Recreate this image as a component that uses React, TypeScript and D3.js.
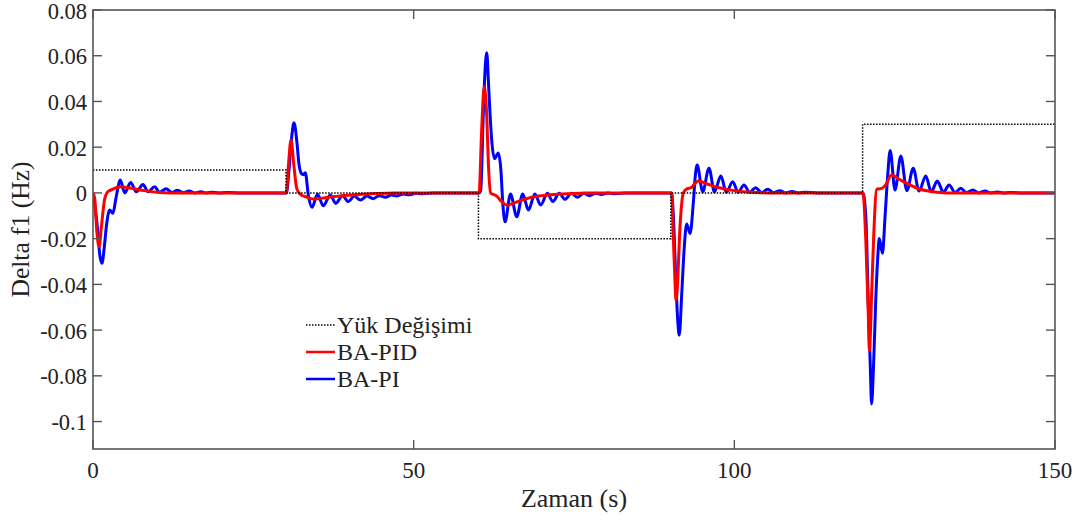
import React from 'react';
import * as d3 from 'd3';

type P = [number, number];

const xTicks = [0, 50, 100, 150];
const xTickLabels = ['0', '50', '100', '150'];
const yTicks = [-0.1, -0.08, -0.06, -0.04, -0.02, 0, 0.02, 0.04, 0.06, 0.08];
const yTickLabels = ['-0.1', '-0.08', '-0.06', '-0.04', '-0.02', '0', '0.02', '0.04', '0.06', '0.08'];

const seriesNames = ['Yük Değişimi', 'BA-PID', 'BA-PI'];

// Load change (step)
const loadSeries: P[] = [
  [0, 0.01], [30.1, 0.01], [30.1, 0], [60.1, 0], [60.1, -0.02], [90.1, -0.02],
  [90.1, 0], [120.0, 0], [120.0, 0.03], [150, 0.03],
];

// BA-PID (red)
const pidSeries: P[] = [
  [0, 0], [0.25, -0.002], [0.6, -0.017], [0.95, -0.0235], [1.3, -0.015], [1.8, -0.003],
  [2.3, 0.0005], [3.0, 0.0015], [4.2, 0.0027], [6, 0.002], [8, 0.001], [10, 0.0003], [12, 0],
  [30.15, 0], [30.46, 0.0115], [30.87, 0.0231], [31.34, 0.0115], [31.76, 0.002], [32.3, -0.0005],
  [33.3, -0.0018], [34.35, -0.0027], [36.5, -0.002], [38.5, -0.0013], [41, -0.0008], [44, -0.0003], [47, 0],
  [60.2, 0], [60.6, 0.0275], [61.0, 0.0465], [61.4, 0.0333], [61.65, 0.013], [62.0, 0],
  [62.95, -0.0014], [63.6, -0.0035], [64.5, -0.0053], [66.5, -0.0035], [68.7, -0.0017],
  [71, -0.0009], [73.9, -0.0004], [77, 0],
  [90.25, 0], [90.5, -0.0206], [90.76, -0.0396], [90.9, -0.0469], [91.2, -0.0367], [91.45, -0.0192],
  [91.8, -0.0045], [92.05, 0], [92.6, 0.0018], [93.2, 0.0022], [94.4, 0.0052], [96, 0.0037],
  [97.5, 0.0024], [100, 0.001], [103.5, 0.0002], [106, 0],
  [120.05, 0], [120.5, -0.0206], [120.9, -0.054], [121.05, -0.069], [121.45, -0.041],
  [121.75, -0.0177], [122.2, 0.0016], [123.0, 0.002], [123.6, 0.0035], [124.5, 0.0078],
  [125.7, 0.006], [126.9, 0.0042], [129, 0.0016], [131, 0.0005], [133, 0], [150, 0],
];

// BA-PI (blue)
const piSeries: P[] = [
  [0, 0], [0.4, -0.008], [0.78, -0.0177], [1.05, -0.027], [1.4, -0.0308], [1.75, -0.024],
  [2.08, -0.0148], [2.6, -0.0075], [3.1, -0.0089], [3.6, -0.002], [4.26, 0.0056], [4.94, 0.0],
  [5.87, 0.0046], [6.76, 0.0005], [7.8, 0.0037], [8.6, 0.0005], [9.6, 0.0027], [10.4, 0.0003],
  [11.4, 0.0018], [12.3, 0.0002], [13.2, 0.0012], [14.1, 0.0001], [15.0, 0.0008], [15.9, 0],
  [16.8, 0.0005], [17.7, 0], [18.6, 0.0003], [19.5, 0], [21, 0.0002], [23, 0],
  [30.15, 0], [30.5, 0.008], [31.0, 0.025], [31.34, 0.0307], [31.8, 0.022], [32.1, 0.013],
  [32.5, 0.0085], [32.8, 0.008], [33.1, 0.0088], [33.6, -0.0015], [34.15, -0.0063],
  [35.0, -0.0006], [35.9, -0.0056], [37.0, -0.0009], [37.85, -0.0046], [38.9, -0.0012],
  [39.8, -0.0038], [40.75, -0.0014], [41.7, -0.0031], [42.7, -0.0014], [43.7, -0.0025],
  [44.6, -0.0012], [45.6, -0.0019], [46.5, -0.0009], [47.4, -0.0013], [48.4, -0.0005],
  [49.4, -0.0008], [50.3, -0.0002], [51.3, -0.0004], [53, 0],
  [60.2, 0], [60.45, 0.001], [60.86, 0.035], [61.1, 0.052], [61.4, 0.0613], [61.65, 0.049],
  [61.9, 0.035], [62.17, 0.023], [62.6, 0.015], [63.2, 0.0175], [63.6, 0.01], [63.9, -0.0046],
  [64.25, -0.0126], [65.1, -0.0005], [66.07, -0.0104], [67.0, -0.0005], [67.9, -0.0075],
  [68.9, -0.0005], [69.8, -0.0053], [70.85, -0.0002], [71.7, -0.0038], [72.7, -0.0002],
  [73.6, -0.0028], [74.6, -0.0002], [75.5, -0.0019], [76.5, -0.0002], [77.4, -0.0012],
  [78.4, -0.0001], [79.3, -0.0007], [80.3, 0], [81.2, -0.0004], [83, 0],
  [90.2, 0], [90.5, -0.0104], [90.9, -0.0396], [91.2, -0.057], [91.42, -0.0622], [91.8, -0.044],
  [92.2, -0.0235], [92.57, -0.0136], [93.1, -0.0177], [93.6, -0.0045], [93.9, 0.007],
  [94.2, 0.0122], [95.07, 0.0005], [96.05, 0.0108], [96.9, 0.0005], [97.9, 0.0074],
  [98.75, 0.0003], [99.75, 0.0049], [100.6, 0.0002], [101.5, 0.0035], [102.4, 0.0002],
  [103.3, 0.0023], [104.3, 0.0001], [105.2, 0.0016], [106.1, 0.0001], [107.1, 0.001],
  [108, 0], [109, 0.0006], [110, 0], [111, 0.0003], [113, 0],
  [120.05, 0], [120.5, -0.0104], [120.9, -0.0498], [121.2, -0.076], [121.4, -0.0923],
  [121.7, -0.076], [122.05, -0.0469], [122.4, -0.0264], [122.6, -0.0199], [123.1, -0.0264],
  [123.5, -0.0104], [123.9, 0.0071], [124.3, 0.0185], [125.05, 0.0013], [125.96, 0.0161],
  [126.9, 0.001], [127.9, 0.0108], [128.8, 0.0008], [129.85, 0.0074], [130.7, 0.0005],
  [131.65, 0.0052], [132.6, 0.0003], [133.5, 0.0035], [134.4, 0.0002], [135.3, 0.002],
  [136.2, 0.0001], [137.2, 0.0013], [138.1, 0], [139.1, 0.0008], [140, 0], [141, 0.0004],
  [142, 0], [143, 0.0002], [145, 0], [150, 0],
];

const W = 1081;
const H = 520;
const L = 93, R = 1055, T = 10, B = 449;
const FONT = '"Liberation Serif", "Times New Roman", serif';
const AX = '#555555';

export default function App() {
  const x = d3.scaleLinear().domain([0, 150]).range([L, R]);
  const y = d3.scaleLinear().domain([-0.112, 0.08]).range([B, T]);
  const smooth = d3.line<P>().x(d => x(d[0])).y(d => y(d[1])).curve(d3.curveMonotoneX);
  const linear = d3.line<P>().x(d => x(d[0])).y(d => y(d[1]));
  const tl = 9;

  return (
    <svg width={W} height={H} style={{ position: 'absolute', left: 0, top: 0, background: '#fff' }}>
      <defs>
        <clipPath id="plot">
          <rect x={L} y={T} width={R - L} height={B - T} />
        </clipPath>
      </defs>
      <rect x={0} y={0} width={W} height={H} fill="#fff" />
      <g clipPath="url(#plot)">
        <path d={smooth(piSeries) || ''} fill="none" stroke="#0000ff" strokeWidth={3} strokeLinejoin="round" />
        <path d={smooth(pidSeries) || ''} fill="none" stroke="#ff0000" strokeWidth={3} strokeLinejoin="round" />
        <path d={linear(loadSeries) || ''} fill="none" stroke="#000" strokeWidth={1.5} strokeDasharray="1.5 1.5" />
      </g>
      <rect x={L} y={T} width={R - L} height={B - T} fill="none" stroke={AX} strokeWidth={1.6} />
      {xTicks.map((t, i) => (
        <g key={'xt' + i}>
          <line x1={x(t)} x2={x(t)} y1={B} y2={B - tl} stroke={AX} strokeWidth={1.4} />
          <line x1={x(t)} x2={x(t)} y1={T} y2={T + tl} stroke={AX} strokeWidth={1.4} />
          <text x={x(t)} y={478} textAnchor="middle" fontFamily={FONT} fontSize={23} fill="#222">{xTickLabels[i]}</text>
        </g>
      ))}
      {yTicks.map((t, i) => (
        <g key={'yt' + i}>
          <line x1={L} x2={L + tl} y1={y(t)} y2={y(t)} stroke={AX} strokeWidth={1.4} />
          <line x1={R} x2={R - tl} y1={y(t)} y2={y(t)} stroke={AX} strokeWidth={1.4} />
          <text x={87} y={y(t) + 8.5} textAnchor="end" fontFamily={FONT} fontSize={22.5} fill="#222">{yTickLabels[i]}</text>
        </g>
      ))}
      <text x={(L + R) / 2} y={507} textAnchor="middle" fontFamily={FONT} fontSize={26} fill="#222">Zaman (s)</text>
      <text transform={`translate(29, ${(T + B) / 2}) rotate(-90)`} textAnchor="middle" fontFamily={FONT} fontSize={25.5} fill="#222">Delta f1 (Hz)</text>
      <g fontFamily={FONT} fontSize={24} fill="#222">
        <line x1={306} x2={335} y1={325} y2={325} stroke="#000" strokeWidth={1.5} strokeDasharray="1.5 1.5" />
        <text x={337} y={333}>{seriesNames[0]}</text>
        <line x1={306} x2={335} y1={352} y2={352} stroke="#ff0000" strokeWidth={2.5} />
        <text x={337} y={360}>{seriesNames[1]}</text>
        <line x1={306} x2={335} y1={379} y2={379} stroke="#0000ff" strokeWidth={2.5} />
        <text x={337} y={387}>{seriesNames[2]}</text>
      </g>
    </svg>
  );
}
